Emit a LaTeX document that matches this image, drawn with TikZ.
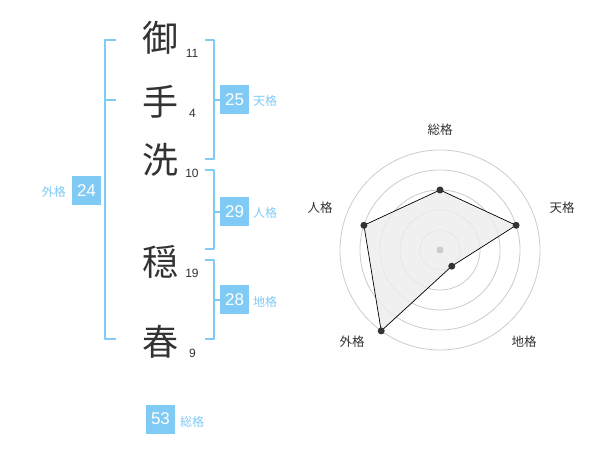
\documentclass[tikz,border=0pt]{standalone}
\usepackage{fontspec}
\setmainfont{Noto Sans CJK JP}
\newfontfamily\numfont{Liberation Sans}
\usetikzlibrary{calc}
\definecolor{kakublue}{HTML}{80CBF6}
\definecolor{inkgray}{HTML}{333333}
\tikzset{
    kanji/.style={font=\fontsize{36}{36}\selectfont, text=inkgray, inner sep=0pt},
    strokes/.style={font=\numfont\fontsize{12}{12}\selectfont, text=inkgray, inner sep=0pt},
    kakubox/.style={fill=kakublue, text=white, minimum size=29pt, inner sep=0pt, font=\numfont\fontsize{17}{17}\selectfont},
    kakulabel/.style={text=kakublue, font=\fontsize{12}{12}\selectfont, inner sep=0pt},
    bracket/.style={draw=kakublue, line width=2pt},
    axislabel/.style={font=\fontsize{12.5}{12.5}\selectfont, text=inkgray, inner sep=0pt},
    radardot/.style={fill=inkgray, draw=none}
}

\begin{document}
\begin{tikzpicture}[x=1pt, y=-1pt, line join = round]
    \fill[white] (0,0) rectangle (600,470);
    \useasboundingbox (0,0) rectangle (600,470);

    % name and stroke counts
    \node[kanji] (c1) at (160,38) {御};
    \node[kanji] (c2) at (160,102) {手};
    \node[kanji] (c3) at (160,160) {洗};
    \node[kanji] (c4) at (160,262) {穏};
    \node[kanji] (c5) at (160,342) {春};
    \node[strokes] (s1) at (192,53) {11};
    \node[strokes] (s2) at (192.5,113) {4};
    \node[strokes] (s3) at (192,173) {10};
    \node[strokes] (s4) at (192,273) {19};
    \node[strokes] (s5) at (192.5,353) {9};

    % brackets
    \draw[bracket] (116,40) -- (105,40) -- (105,339) -- (116,339) (105,100) -- (116,100);
    \draw[bracket] (205,40) -- (214,40) -- (214,159) -- (205,159) (214,100) -- (220,100);
    \draw[bracket] (205,170) -- (214,170) -- (214,249) -- (205,249) (214,212) -- (220,212);
    \draw[bracket] (205,260) -- (214,260) -- (214,339) -- (205,339) (214,300) -- (220,300);

    \node[kakubox] (ten) at (234.5,100) {25};
    \node[kakulabel, anchor=west] (tenl) at (253,101) {天格};
    \node[kakubox] (jin) at (234.5,212) {29};
    \node[kakulabel, anchor=west] (jinl) at (253,213) {人格};
    \node[kakubox] (chi) at (234.5,300) {28};
    \node[kakulabel, anchor=west] (chil) at (253,302) {地格};
    \node[kakubox] (gai) at (86.5,190.5) {24};
    \node[kakulabel, anchor=east] (gail) at (66,192) {外格};
    \node[kakubox] (sou) at (160.5,419) {53};
    \node[kakulabel, anchor=west] (soul) at (180,422) {総格};

    % radar chart
    \begin{scope}[shift={(440,250)}]
        \coordinate (o) at (0,0);
        \draw[black!20, line width=0.8pt] (o) circle (20pt) (o) circle (40pt) (o) circle (60pt) (o) circle (80pt) (o) circle (100pt);
        \coordinate (rsou) at (90:60pt);
        \coordinate (rten) at (18:80pt);
        \coordinate (rchi) at (-54:20pt);
        \coordinate (rgai) at (-126:100pt);
        \coordinate (rjin) at (162:80pt);
        \draw[fill=black!7, fill opacity=0.8, draw=black, line width=0.7pt] (rsou) -- (rten) -- (rchi) -- (rgai) -- (rjin) -- cycle;
        \fill[black!20] (o) circle (3.5pt);
        \fill[radardot] (rsou) circle (3.5pt) (rten) circle (3.5pt) (rchi) circle (3.5pt) (rgai) circle (3.5pt) (rjin) circle (3.5pt);
    \end{scope}
    \node[axislabel] (asou) at (440,130) {総格};
    \node[axislabel] (aten) at (562,208) {天格};
    \node[axislabel] (achi) at (524,342) {地格};
    \node[axislabel] (agai) at (352,342) {外格};
    \node[axislabel] (ajin) at (320,208) {人格};

\end{tikzpicture}
\end{document}
